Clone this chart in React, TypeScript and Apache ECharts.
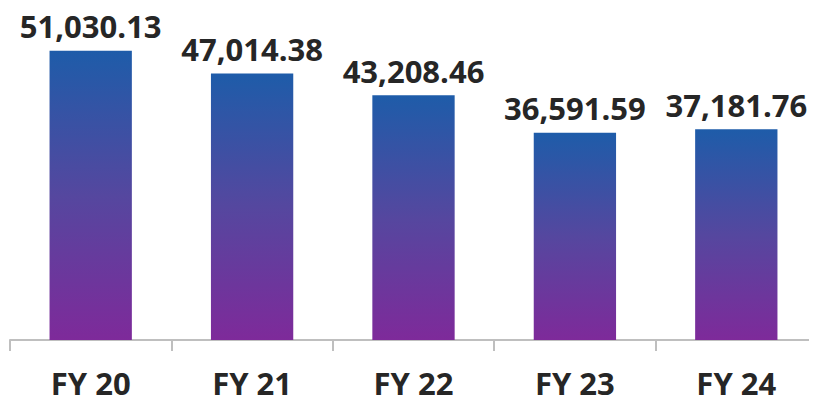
import React, { useEffect, useRef } from "react";
import * as echarts from "echarts";

const categories = ["FY 20", "FY 21", "FY 22", "FY 23", "FY 24"];
const values = [51030.13, 47014.38, 43208.46, 36591.59, 37181.76];

export default function App() {
  const ref = useRef<HTMLDivElement>(null);
  useEffect(() => {
    const chart = echarts.init(ref.current!, null, { renderer: "svg" });
    chart.setOption({
      animation: false,
      grid: { left: 10, right: -6, top: 0, bottom: 64 },
      xAxis: {
        type: "category",
        data: categories,
        axisLine: { lineStyle: { color: "#bfbfbf", width: 2 } },
        axisTick: { show: true, length: 11, lineStyle: { color: "#bfbfbf", width: 2 } },
        axisLabel: {
          color: "#262626",
          fontFamily: "Open Sans",
          fontWeight: "bold",
          fontSize: 31,
          margin: 27,
        },
      },
      yAxis: { type: "value", min: 0, max: 60000, show: false, splitLine: { show: false } },
      series: [
        {
          type: "bar",
          data: values,
          barWidth: "51%",
          itemStyle: {
            color: new echarts.graphic.LinearGradient(0, 0, 0, 1, [
              { offset: 0, color: "#1e5ca9" },
              { offset: 0.5, color: "#55479f" },
              { offset: 1, color: "#7e2a9a" },
            ]),
          },
          label: {
            show: true,
            position: "top",
            distance: 9,
            color: "#262626",
            fontFamily: "Open Sans",
            fontWeight: "bold",
            fontSize: 31,
            formatter: (p: any) =>
              Number(p.value).toLocaleString("en-US", { minimumFractionDigits: 2, maximumFractionDigits: 2 }),
          },
        },
      ],
    });
    return () => chart.dispose();
  }, []);
  return <div ref={ref} style={{ width: 817, height: 404, margin: -8 }} />;
}
